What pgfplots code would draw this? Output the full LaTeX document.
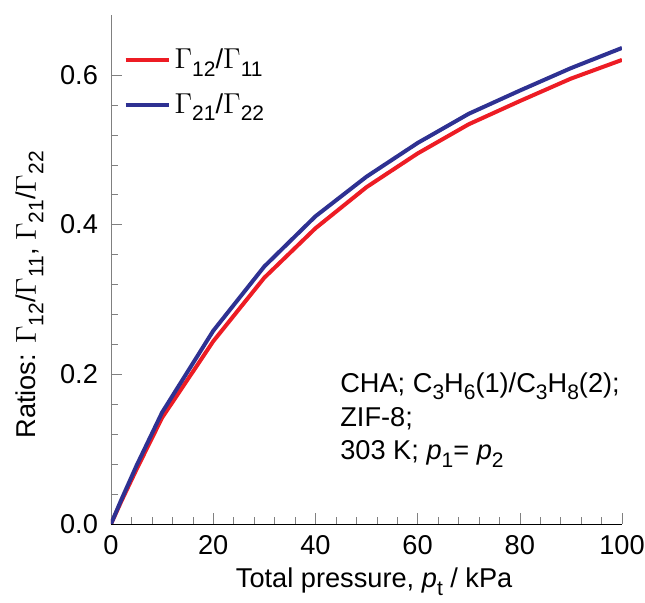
\documentclass[border=0pt]{standalone}
\usepackage{fontspec}
\setmainfont{Liberation Sans}
\usepackage{pgfplots}
\pgfplotsset{compat=1.18}
\definecolor{cred}{HTML}{ED1C24}
\definecolor{cblue}{HTML}{2E3192}
\newcommand{\G}{$\Gamma$}
\newcommand{\sub}[1]{\raisebox{-0.28em}{\fontsize{10.5}{12}\selectfont #1}}
\newcommand{\fs}{\fontsize{13.6}{16}\selectfont}
\begin{document}
\begin{tikzpicture}
\useasboundingbox (-55.5pt,-39.5pt) rectangle (267pt,262pt);
\begin{axis}[
    at={(0,0)}, anchor=south west,
    scale only axis,
    width=255.5pt, height=254.5pt,
    xmin=0, xmax=100, ymin=0, ymax=0.68,
    axis x line=bottom, axis y line=left,
    axis line style={-},
    y axis line style={gray},
    ytick style={gray},
    xtick={0,20,...,100},
    ytick={0,0.2,0.4,0.6},
    minor x tick num=4,
    minor y tick num=4,
    tick align=inside,
    major tick length=5.5pt,
    minor tick length=3.5pt,
    /pgf/number format/assume math mode=true,
    yticklabel style={/pgf/number format/fixed, /pgf/number format/fixed zerofill,
        /pgf/number format/precision=1, xshift=-3pt},
    tick label style={font=\fs},
    xticklabel style={yshift=-2pt},
    label style={font=\fs},
    xlabel={Total pressure, \textit{p}\sub{t} / kPa},
    ylabel={Ratios: \G\sub{12}/\G\sub{11}, \G\sub{21}/\G\sub{22}},
    xlabel style={at={(axis description cs:0.515,-0.114)}, anchor=center},
    ylabel style={at={(axis description cs:-0.159,0.45)}, anchor=center},
    legend style={draw=none, fill=none, at={(axis description cs:0.02,0.946)}, anchor=north west,
        font=\fs, row sep=7pt, inner sep=1pt},
    legend cell align=left,
    legend image code/.code={\draw[#1, line width=2pt] (0pt,0pt) -- (21.5pt,0pt);},
]
\addplot[cred, line width=2pt] coordinates {
(0,0) (2,0.030) (5,0.073) (10,0.142) (20,0.244) (30,0.329) (40,0.395) (50,0.450)
(60,0.495) (70,0.534) (80,0.565) (90,0.595) (100,0.620)};
\addlegendentry{\G\sub{12}/\G\sub{11}}
\addplot[cblue, line width=2pt] coordinates {
(0,0) (2,0.032) (5,0.078) (10,0.149) (20,0.258) (30,0.344) (40,0.411) (50,0.464)
(60,0.509) (70,0.548) (80,0.579) (90,0.609) (100,0.636)};
\addlegendentry{\G\sub{21}/\G\sub{22}}
\node[anchor=base west, font=\fs, inner sep=0pt] at (axis cs:44.8,0.1763)
  {CHA; C\sub{3}H\sub{6}(1)/C\sub{3}H\sub{8}(2);};
\node[anchor=base west, font=\fs, inner sep=0pt] at (axis cs:44.8,0.1309) {ZIF-8;};
\node[anchor=base west, font=\fs, inner sep=0pt] at (axis cs:44.8,0.0855)
  {303 K; \textit{p}\sub{1}= \textit{p}\sub{2}};
\end{axis}
\end{tikzpicture}
\end{document}
